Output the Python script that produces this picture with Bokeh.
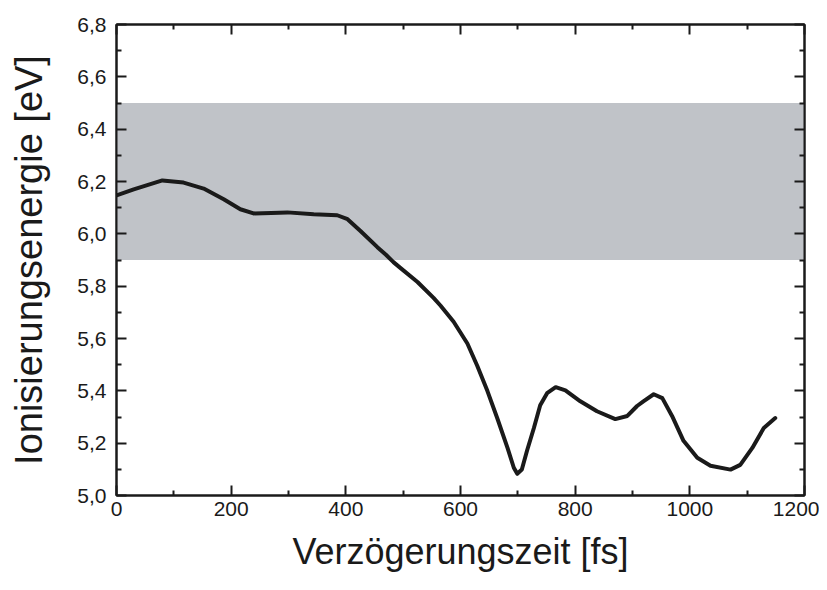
from bokeh.plotting import figure
from bokeh.models import LinearAxis, BoxAnnotation, FixedTicker, Range1d
from bokeh.embed import file_html
from bokeh.resources import INLINE

# data
delay_fs = [0, 30, 80, 117, 152, 187, 216, 239, 270, 298, 344, 385, 403, 426, 455,
            470, 483, 495, 525, 553, 565, 588, 612, 629, 647, 664, 682, 693, 699,
            707, 716, 728, 739, 751, 766, 783, 809, 838, 870, 891, 908, 919, 937,
            952, 969, 989, 1013, 1036, 1071, 1088, 1109, 1129, 1149]
energy_ev = [6.147, 6.170, 6.204, 6.196, 6.173, 6.132, 6.094, 6.078, 6.080, 6.082,
             6.075, 6.071, 6.056, 6.010, 5.949, 5.920, 5.892, 5.870, 5.816, 5.755,
             5.726, 5.664, 5.581, 5.497, 5.399, 5.296, 5.182, 5.106, 5.083, 5.099,
             5.171, 5.258, 5.345, 5.391, 5.414, 5.402, 5.360, 5.322, 5.292, 5.304,
             5.342, 5.360, 5.387, 5.372, 5.304, 5.209, 5.144, 5.114, 5.099, 5.117,
             5.182, 5.258, 5.296]
band_low, band_high = 5.9, 6.5
x_ticks = [0, 200, 400, 600, 800, 1000, 1200]
y_ticks = [5.0, 5.2, 5.4, 5.6, 5.8, 6.0, 6.2, 6.4, 6.6, 6.8]
y_tick_labels = ["5,0", "5,2", "5,4", "5,6", "5,8", "6,0", "6,2", "6,4", "6,6", "6,8"]

FONT = "Liberation Sans"

p = figure(width=819, height=574, output_backend="svg", toolbar_location=None,
           x_range=Range1d(0, 1200), y_range=Range1d(5.0, 6.8),
           min_border_left=116, min_border_top=24, min_border_right=15,
           min_border_bottom=76)
p.grid.visible = False
p.outline_line_color = "#1a1a1a"
p.outline_line_width = 2
p.background_fill_color = "white"
p.border_fill_color = "white"

p.add_layout(BoxAnnotation(bottom=band_low, top=band_high, fill_color="#c0c3c8",
                           fill_alpha=1.0, line_color=None, level="underlay"))

p.line(delay_fs, energy_ev, line_width=4, line_color="#1a1a1a", line_join="round",
       line_cap="round")

def style_axis(ax, ticks, show_labels):
    ax.ticker = FixedTicker(ticks=ticks,
                            minor_ticks=[t + (ticks[1] - ticks[0]) / 2 for t in ticks[:-1]])
    ax.axis_line_color = "#1a1a1a"
    ax.axis_line_width = 2
    ax.major_tick_line_color = "#1a1a1a"
    ax.major_tick_line_width = 2
    ax.minor_tick_line_color = "#1a1a1a"
    ax.minor_tick_line_width = 2
    ax.major_tick_in = 10
    ax.major_tick_out = 0
    ax.minor_tick_in = 5
    ax.minor_tick_out = 0
    ax.major_label_text_font = FONT
    ax.major_label_text_font_size = "21px"
    ax.major_label_text_color = "#1a1a1a"
    ax.axis_label_text_font = FONT
    ax.axis_label_text_font_style = "normal"
    ax.axis_label_text_color = "#1a1a1a"
    if not show_labels:
        ax.major_label_overrides = {t: "" for t in ticks}
        ax.major_label_standoff = 0

xa = p.xaxis[0]
style_axis(xa, x_ticks, True)
xa.axis_label = "Verzögerungszeit [fs]"
xa.axis_label_text_font_size = "36px"
xa.major_label_standoff = 6
xa.axis_label_standoff = 12

ya = p.yaxis[0]
style_axis(ya, y_ticks, True)
ya.major_label_overrides = {t: l for t, l in zip(y_ticks, y_tick_labels)}
ya.axis_label = "Ionisierungsenergie [eV]"
ya.axis_label_text_font_size = "38px"
ya.major_label_standoff = 10
ya.axis_label_standoff = 24

top_ax = LinearAxis()
style_axis(top_ax, x_ticks, False)
p.add_layout(top_ax, "above")

right_ax = LinearAxis()
style_axis(right_ax, y_ticks, False)
p.add_layout(right_ax, "right")

open("out.html", "w").write(file_html(p, INLINE))
